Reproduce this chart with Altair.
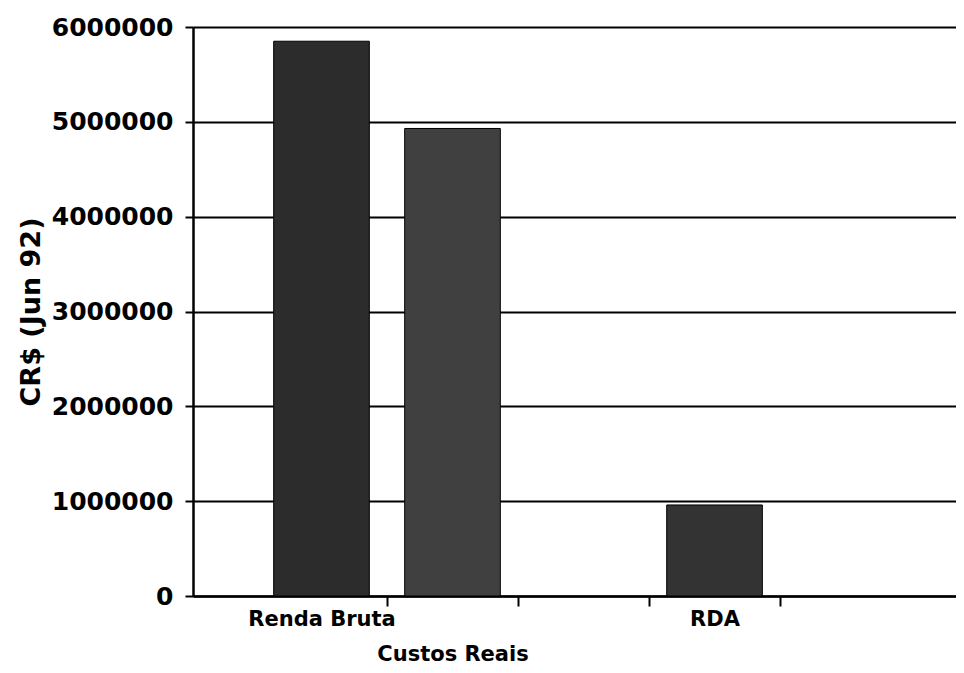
import altair as alt
import pandas as pd

# Data
x_domain = ["Renda Bruta", "Custos Reais", " ", "RDA"]
categories = ["Renda Bruta", "Custos Reais", "RDA"]
values = [5850000, 4930000, 960000]
bar_colors = ["#2c2c2c", "#404040", "#333333"]
y_ticks = [0, 1000000, 2000000, 3000000, 4000000, 5000000, 6000000]

df = pd.DataFrame({"category": categories, "value": values})

FONT = "DejaVu Sans"

bars = alt.Chart(df).mark_bar(
    width=alt.RelativeBandSize(0.73), stroke="black", strokeWidth=1
).encode(
    x=alt.X(
        "category:N",
        scale=alt.Scale(domain=x_domain, paddingInner=0, paddingOuter=0.912, align=0.2636),
        axis=alt.Axis(
            title=None,
            labelAngle=0,
            labelFont=FONT,
            labelFontSize=21,
            labelFontWeight="bold",
            labelColor="black",
            tickColor="black",
            tickWidth=2,
            tickSize=10,
            tickOffset=65.5,
            labelOffset=-65.5,
            labelPadding={"condition": {"test": "datum.value === 'Custos Reais'", "value": 37}, "value": 2},
            domainColor="black",
            domainWidth=2.5,
            grid=False,
        ),
    ),
    y=alt.Y(
        "value:Q",
        scale=alt.Scale(domain=[0, 6000000], nice=False),
        axis=alt.Axis(
            title="CR$ (Jun 92)",
            titleFont=FONT,
            titleFontSize=27,
            titleFontWeight="bold",
            titleColor="black",
            titlePadding=6,
            values=y_ticks,
            format="d",
            labelFont=FONT,
            labelFontSize=25,
            labelFontWeight="bold",
            labelColor="black",
            labelPadding=12,
            tickColor="black",
            tickWidth=2,
            tickSize=8,
            domainColor="black",
            domainWidth=2.5,
            grid=True,
            gridColor="black",
            gridWidth=2,
        ),
    ),
    color=alt.Color(
        "category:N",
        scale=alt.Scale(domain=categories, range=bar_colors),
        legend=None,
    ),
)

chart = bars.properties(
    width=763,
    height=569,
    padding={"left": 185, "top": 19, "right": 0, "bottom": 68},
    autosize=alt.AutoSizeParams(type="none"),
).configure_view(stroke=None).configure(background="white")

chart.save("out.html", embed_options={"renderer": "svg", "actions": False})
